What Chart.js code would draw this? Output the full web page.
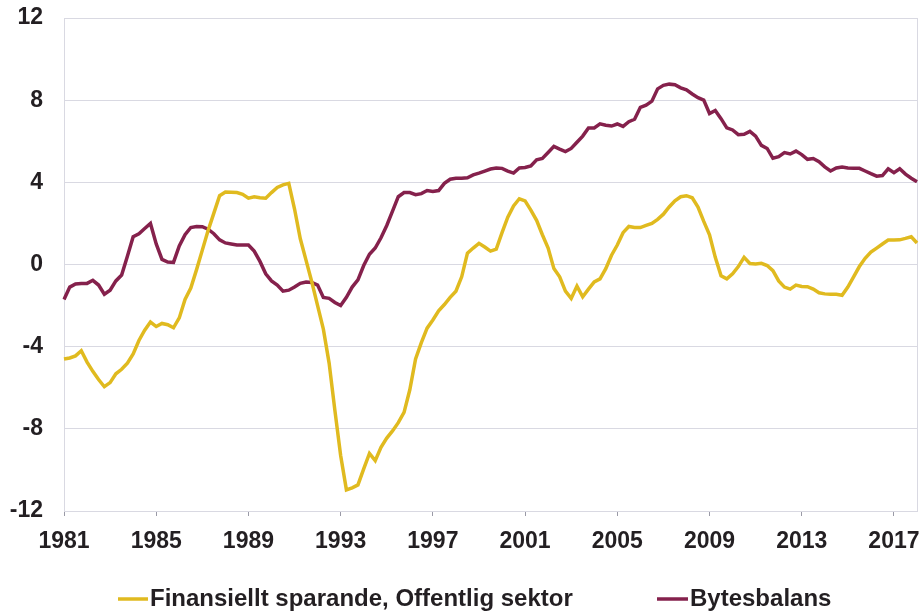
<!DOCTYPE html>
<html>
<head>
<meta charset="utf-8">
<script src="https://cdn.jsdelivr.net/npm/chart.js@4.4.1/dist/chart.umd.min.js"></script>
<style>
html,body{margin:0;padding:0;background:#ffffff;}
#wrap{width:923px;height:614px;position:relative;}
canvas{display:block;}
</style>
</head>
<body>
<div id="wrap"><canvas id="c" width="923" height="614"></canvas></div>
<script>
// ---- data ----
const firstYear = 1981;
const lastYear = 2018;
const tickYears = ['1981','1985','1989','1993','1997','2001','2005','2009','2013','2017'];
const yTickValues = [-12, -8, -4, 0, 4, 8, 12];
const seriesNames = ['Finansiellt sparande, Offentlig sektor', 'Bytesbalans'];

// quarterly categories 1981Q1 .. 2018Q1
const quarters = [];
for (let y = firstYear; y <= lastYear; y++) {
  for (let q = 1; q <= 4; q++) {
    if (y === lastYear && q > 1) break;
    quarters.push(y + 'Q' + q);
  }
}

const finansielltSparande = [
  -4.6, -4.55, -4.45, -4.2, -4.75, -5.2, -5.6, -5.95, -5.75, -5.32,
  -5.1, -4.8, -4.35, -3.7, -3.2, -2.8, -3.02, -2.87, -2.93, -3.08,
  -2.6, -1.7, -1.15, -0.25, 0.7, 1.65, 2.5, 3.35, 3.53, 3.52,
  3.5, 3.42, 3.23, 3.3, 3.25, 3.23, 3.5, 3.75, 3.88, 3.95,
  2.7, 1.25, 0.2, -0.85, -2.0, -3.15, -4.8, -7.1, -9.3, -10.97,
  -10.87, -10.73, -9.95, -9.2, -9.55, -8.9, -8.45, -8.1, -7.7, -7.2,
  -6.1, -4.6, -3.8, -3.1, -2.7, -2.25, -1.95, -1.6, -1.3, -0.6,
  0.55, 0.8, 1.03, 0.85, 0.65, 0.75, 1.55, 2.3, 2.85, 3.2,
  3.1, 2.65, 2.15, 1.45, 0.8, -0.2, -0.6, -1.3, -1.65, -1.05,
  -1.57, -1.2, -0.85, -0.7, -0.2, 0.45, 0.95, 1.55, 1.85, 1.8,
  1.8, 1.9, 2.0, 2.2, 2.45, 2.8, 3.1, 3.3, 3.35, 3.25,
  2.8, 2.1, 1.45, 0.35, -0.55, -0.7, -0.45, -0.1, 0.35, 0.05,
  0.02, 0.06, -0.05, -0.3, -0.8, -1.1, -1.2, -1.0, -1.07, -1.08,
  -1.2, -1.38, -1.43, -1.45, -1.45, -1.5, -1.1, -0.6, -0.1, 0.3,
  0.6, 0.8, 1.0, 1.19, 1.19, 1.2, 1.27, 1.35, 1.05
];

const bytesbalans = [
  -1.7, -1.1, -0.95, -0.92, -0.92, -0.77, -1.0, -1.45, -1.25, -0.8,
  -0.51, 0.4, 1.35, 1.5, 1.75, 2.0, 1.0, 0.25, 0.12, 0.1,
  0.9, 1.45, 1.8, 1.85, 1.84, 1.72, 1.5, 1.2, 1.05, 1.0,
  0.95, 0.95, 0.95, 0.65, 0.15, -0.45, -0.8, -1.0, -1.3, -1.25,
  -1.1, -0.92, -0.85, -0.88, -1.0, -1.6, -1.65, -1.85, -2.0, -1.6,
  -1.1, -0.75, -0.05, 0.5, 0.8, 1.3, 1.9, 2.6, 3.3, 3.5,
  3.5, 3.4, 3.45, 3.6, 3.55, 3.6, 3.95, 4.15, 4.2, 4.2,
  4.22, 4.36, 4.45, 4.55, 4.65, 4.7, 4.68, 4.55, 4.45, 4.7,
  4.72, 4.8, 5.1, 5.16, 5.45, 5.75, 5.62, 5.5, 5.65, 5.95,
  6.25, 6.65, 6.65, 6.85, 6.78, 6.74, 6.84, 6.72, 6.95, 7.07,
  7.65, 7.76, 7.95, 8.55, 8.72, 8.78, 8.75, 8.6, 8.5, 8.3,
  8.12, 8.0, 7.35, 7.5, 7.1, 6.65, 6.55, 6.32, 6.34, 6.48,
  6.25, 5.8, 5.65, 5.17, 5.25, 5.45, 5.38, 5.52, 5.35, 5.12,
  5.16, 5.0, 4.75, 4.55, 4.7, 4.75, 4.7, 4.68, 4.68, 4.55,
  4.42, 4.3, 4.33, 4.66, 4.47, 4.66, 4.4, 4.2, 4.03
];

// ---- styles ----
const YELLOW = '#E0BA1F';
const MAROON = '#85214C';
const GRID = '#d9d9e2';
const TEXT = '#231f22';
const FONT = "'Liberation Sans', Arial, sans-serif";

function yearLabel(index) {
  const q = quarters[index];
  if (!q) return '';
  const y = q.slice(0, 4);
  return (q.endsWith('Q1') && tickYears.includes(y)) ? y : '';
}

const legendPlugin = {
  id: 'bottomLegend',
  afterDraw(chart) {
    const ctx = chart.ctx;
    const spots = [{ x0: 118, x1: 148, tx: 150 }, { x0: 657, x1: 688, tx: 690 }];
    const y = 599;
    ctx.save();
    chart.data.datasets.forEach((ds, i) => {
      const s = spots[i];
      ctx.strokeStyle = ds.borderColor;
      ctx.lineWidth = 3.5;
      ctx.beginPath();
      ctx.moveTo(s.x0, y);
      ctx.lineTo(s.x1, y);
      ctx.stroke();
      ctx.fillStyle = TEXT;
      ctx.font = 'bold 24px ' + FONT;
      ctx.textAlign = 'left';
      ctx.textBaseline = 'middle';
      ctx.fillText(ds.label, s.tx, y);
    });
    ctx.restore();
  }
};

new Chart(document.getElementById('c'), {
  type: 'line',
  data: {
    labels: quarters,
    datasets: [
      { label: seriesNames[0], data: finansielltSparande, borderColor: YELLOW, backgroundColor: YELLOW,
        borderWidth: 3.5, pointRadius: 0, tension: 0, fill: false },
      { label: seriesNames[1], data: bytesbalans, borderColor: MAROON, backgroundColor: MAROON,
        borderWidth: 3.5, pointRadius: 0, tension: 0, fill: false }
    ]
  },
  options: {
    responsive: false,
    animation: false,
    layout: { padding: { left: 0, top: 18, right: 6, bottom: 63 } },
    plugins: { legend: { display: false }, tooltip: { enabled: false } },
    scales: {
      x: {
        type: 'category',
        offset: false,
        grid: {
          drawOnChartArea: false,
          drawTicks: true,
          tickLength: 5,
          color: (c) => yearLabel(c.index) ? '#9a9aa6' : 'rgba(0,0,0,0)'
        },
        border: { display: true, color: GRID },
        ticks: {
          autoSkip: false, maxRotation: 0, minRotation: 0, padding: 12,
          color: TEXT, font: { family: FONT, size: 23, weight: 'bold' },
          callback: (v, i) => yearLabel(i)
        },
        afterFit: (s) => { s.height = 40; s.paddingRight = 0; s.paddingLeft = 0; }
      },
      y: {
        min: yTickValues[0], max: yTickValues[yTickValues.length - 1],
        afterBuildTicks: (s) => { s.ticks = yTickValues.map(v => ({ value: v })); },
        grid: { color: GRID, drawTicks: true, tickLength: 21, tickColor: 'rgba(0,0,0,0)', lineWidth: 1 },
        border: { display: true, color: GRID },
        ticks: { padding: 0, color: TEXT, font: { family: FONT, size: 23, weight: 'bold' } },
        afterFit: (s) => { s.width = 64; }
      },
      yRight: {
        position: 'right',
        min: yTickValues[0], max: yTickValues[yTickValues.length - 1],
        grid: { drawOnChartArea: false, drawTicks: false },
        border: { display: true, color: GRID },
        ticks: { display: false },
        afterFit: (s) => { s.width = 0; s.paddingTop = 0; s.paddingBottom = 0; }
      }
    }
  },
  plugins: [legendPlugin]
});
</script>
</body>
</html>
